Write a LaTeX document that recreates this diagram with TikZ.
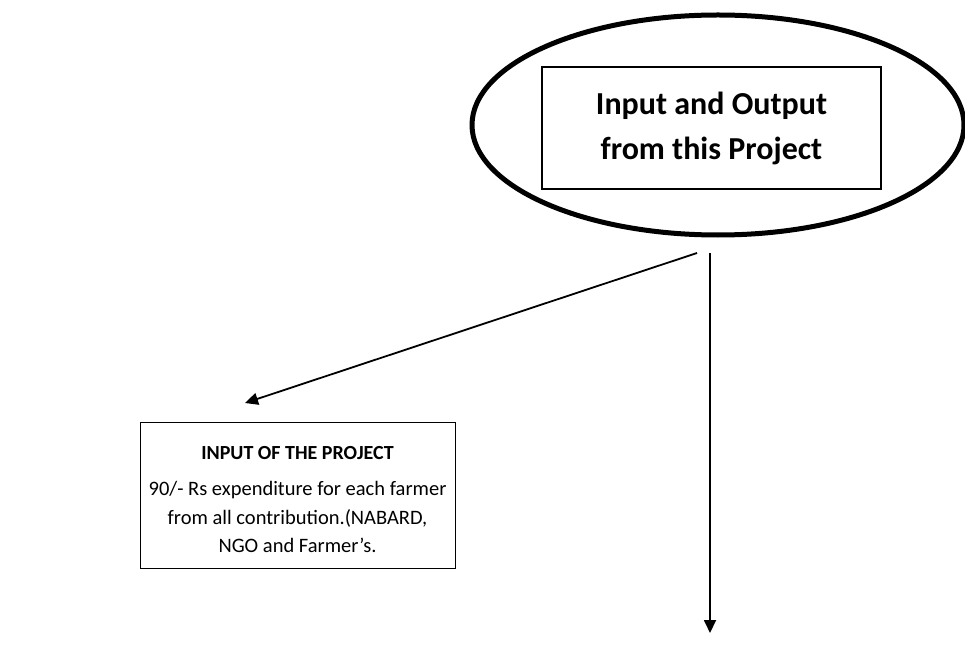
\documentclass[tikz,border=0pt]{standalone}
\usepackage{fontspec}
\setmainfont{Carlito}
\usetikzlibrary{arrows.meta}
\begin{document}
\begin{tikzpicture}[x=1pt,y=-1pt,
  tip/.style={-{Triangle[length=13pt,width=12pt]}, line width=1.8pt},
  headbox/.style={draw, line width=1.3pt, minimum width=339pt, minimum height=122pt,
    align=center, font=\fontsize{32}{45}\selectfont\bfseries},
  infobox/.style={draw, line width=1.3pt, minimum width=315pt, minimum height=146pt}]
  \useasboundingbox (0,0) rectangle (965,660);
  % outer ellipse round the heading
  \draw[line width=5pt] (718,125) ellipse [x radius=246, y radius=110];
  \node[headbox] (head) at (711.5,128) {Input and Output\\from this Project};
  % input box with its title and text
  \node[infobox, anchor=north west] (input) at (140,422) {};
  \node[font=\fontsize{20}{24}\selectfont\bfseries] (ititle) at (297.5,453) {INPUT OF THE PROJECT};
  \node[font=\fontsize{20.5}{28.5}\selectfont, align=center, anchor=north] (ibody) at (297.5,478)
    {90/- Rs expenditure for each farmer\\from all contribution.(NABARD,\\NGO and Farmer’s.};
  % connectors
  \coordinate (s1) at (697,253);
  \coordinate (s2) at (710,253);
  \coordinate (e1) at (245,403);
  \coordinate (e2) at (710,633);
  \draw[tip] (s1) -- (e1);
  \draw[tip] (s2) -- (e2);
\end{tikzpicture}
\end{document}
